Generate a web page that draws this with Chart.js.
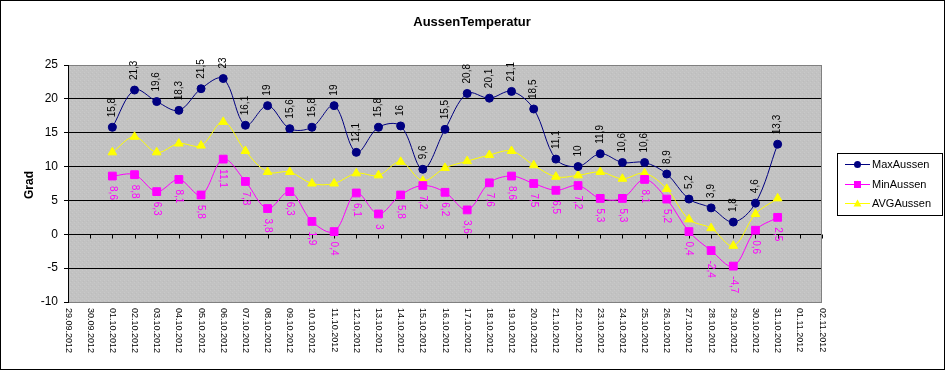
<!DOCTYPE html>
<html>
<head>
<meta charset="utf-8">
<script src="https://cdn.jsdelivr.net/npm/chart.js@4.4.0/dist/chart.umd.min.js"></script>
<style>
  html, body { margin: 0; padding: 0; background: #fff; }
  canvas { display: block; }
</style>
</head>
<body>
<canvas id="chart" width="946" height="371"></canvas>
<script>
/* =========================================================
   DATA
========================================================= */
const dates = [
  "29.09.2012", "30.09.2012",
  "01.10.2012", "02.10.2012", "03.10.2012", "04.10.2012", "05.10.2012",
  "06.10.2012", "07.10.2012", "08.10.2012", "09.10.2012", "10.10.2012",
  "11.10.2012", "12.10.2012", "13.10.2012", "14.10.2012", "15.10.2012",
  "16.10.2012", "17.10.2012", "18.10.2012", "19.10.2012", "20.10.2012",
  "21.10.2012", "22.10.2012", "23.10.2012", "24.10.2012", "25.10.2012",
  "26.10.2012", "27.10.2012", "28.10.2012", "29.10.2012", "30.10.2012",
  "31.10.2012", "01.11.2012", "02.11.2012"
];

// values for 01.10 .. 31.10
const maxAussen = [15.8, 21.3, 19.6, 18.3, 21.5, 23, 16.1, 19, 15.6, 15.8,
  19, 12.1, 15.8, 16, 9.6, 15.5, 20.8, 20.1, 21.1, 18.5,
  11.1, 10, 11.9, 10.6, 10.6, 8.9, 5.2, 3.9, 1.8, 4.6, 13.3];

const minAussen = [8.6, 8.8, 6.3, 8.1, 5.8, 11.1, 7.8, 3.8, 6.3, 1.9,
  0.4, 6.1, 3, 5.8, 7.2, 6.2, 3.6, 7.6, 8.6, 7.5,
  6.5, 7.2, 5.3, 5.3, 8.1, 5.2, 0.4, -2.4, -4.7, 0.6, 2.5];

const avgAussen = [12.1, 14.4, 12.1, 13.4, 13.1, 16.6, 12.3, 9.2, 9.2, 7.5,
  7.5, 9.0, 8.7, 10.7, 7.9, 9.8, 10.8, 11.7, 12.3, 10.2,
  8.5, 8.7, 9.2, 8.2, 9.0, 6.7, 2.2, 0.9, -1.7, 3.0, 5.3];

const yTicks = { min: -10, max: 25, step: 5 };

/* =========================================================
   HELPERS
========================================================= */
const FONT = '"Liberation Sans", Arial, sans-serif';

// first two and last two dates carry no values
function pad(values) {
  return [null, null, ...values, null, null];
}

function formatNum(v) {
  return String(v).replace(".", ",");
}

function plotPattern(ctx) {
  const c = document.createElement("canvas");
  c.width = 4;
  c.height = 4;
  const p = c.getContext("2d");
  p.fillStyle = "#c2c2c2";
  p.fillRect(0, 0, 4, 4);
  p.fillStyle = "#c9c9c9";
  p.fillRect(0, 0, 1, 1);
  p.fillRect(2, 2, 1, 1);
  p.fillStyle = "#bcbcbc";
  p.fillRect(3, 1, 1, 1);
  return ctx.createPattern(c, "repeat");
}

/* =========================================================
   DECORATION PLUGIN
========================================================= */
const decor = {
  id: "decor",

  beforeDraw(chart) {
    const { ctx, chartArea: a } = chart;
    ctx.save();
    ctx.fillStyle = "#fff";
    ctx.fillRect(0, 0, chart.width, chart.height);
    ctx.fillStyle = plotPattern(ctx);
    ctx.fillRect(a.left, a.top, a.right - a.left, a.bottom - a.top);
    ctx.restore();
  },

  beforeDatasetsDraw(chart) {
    const { ctx, chartArea: a, scales } = chart;
    ctx.save();
    // plot border
    ctx.strokeStyle = "#808080";
    ctx.lineWidth = 1;
    ctx.strokeRect(a.left + 0.5, a.top + 0.5, a.right - a.left - 1, a.bottom - a.top);
    // value axis
    ctx.strokeStyle = "#000";
    ctx.beginPath();
    ctx.moveTo(a.left + 0.5, a.top);
    ctx.lineTo(a.left + 0.5, a.bottom + 1);
    ctx.stroke();
    // category ticks on the zero line
    const y0 = Math.round(scales.y.getPixelForValue(0)) + 0.5;
    ctx.beginPath();
    dates.forEach((d, i) => {
      const x = Math.round(scales.x.getPixelForValue(i)) + 0.5;
      ctx.moveTo(x, y0);
      ctx.lineTo(x, y0 + 4);
    });
    ctx.stroke();
    ctx.restore();
  },

  afterDatasetsDraw(chart) {
    const { ctx } = chart;
    ctx.save();
    ctx.font = "10px " + FONT;
    ctx.textBaseline = "middle";
    ctx.textAlign = "left";
    chart.data.datasets.forEach((ds, i) => {
      if (!ds.labelSide) return;
      const meta = chart.getDatasetMeta(i);
      meta.data.forEach((pt, j) => {
        const v = ds.data[j];
        if (v == null) return;
        ctx.save();
        ctx.translate(pt.x, pt.y);
        ctx.rotate(ds.labelSide === "above" ? -Math.PI / 2 : Math.PI / 2);
        ctx.fillStyle = ds.labelColor;
        ctx.fillText(formatNum(v), 10, 0);
        ctx.restore();
      });
    });
    ctx.restore();
  },

  afterDraw(chart) {
    const { ctx, scales } = chart;
    ctx.save();

    // title
    ctx.fillStyle = "#000";
    ctx.font = "bold 13px " + FONT;
    ctx.textAlign = "center";
    ctx.textBaseline = "middle";
    ctx.fillText("AussenTemperatur", 472, 22);

    // axis title
    ctx.save();
    ctx.translate(30, 185);
    ctx.rotate(-Math.PI / 2);
    ctx.font = "bold 12px " + FONT;
    ctx.fillText("Grad", 0, 0);
    ctx.restore();

    // date labels
    ctx.font = "9px " + FONT;
    ctx.textAlign = "left";
    dates.forEach((d, i) => {
      const x = scales.x.getPixelForValue(i);
      ctx.save();
      ctx.translate(x, 308);
      ctx.rotate(Math.PI / 2);
      ctx.fillText(d, 0, 0);
      ctx.restore();
    });

    // legend
    ctx.fillStyle = "#fff";
    ctx.fillRect(837, 153, 105, 62);
    ctx.strokeStyle = "#000";
    ctx.lineWidth = 1;
    ctx.strokeRect(837.5, 153.5, 105, 62);
    ctx.font = "11px " + FONT;
    ctx.textBaseline = "middle";
    const rows = [164, 184, 203];
    chart.data.datasets.forEach((ds, i) => {
      const y = rows[i];
      ctx.strokeStyle = ds.borderColor;
      ctx.fillStyle = ds.borderColor;
      ctx.beginPath();
      ctx.moveTo(845, y + 0.5);
      ctx.lineTo(870, y + 0.5);
      ctx.stroke();
      const cx = 857.5;
      ctx.beginPath();
      if (ds.pointStyle === "circle") {
        ctx.arc(cx, y + 0.5, 3.5, 0, Math.PI * 2);
      } else if (ds.pointStyle === "rect") {
        ctx.rect(cx - 3.5, y - 3, 7, 7);
      } else {
        ctx.moveTo(cx, y - 3.5);
        ctx.lineTo(cx + 4, y + 3.5);
        ctx.lineTo(cx - 4, y + 3.5);
        ctx.closePath();
      }
      ctx.fill();
      ctx.fillStyle = "#000";
      ctx.fillText(ds.label, 872, y + 1);
    });

    // outer border
    ctx.strokeStyle = "#000";
    ctx.strokeRect(0.5, 0.5, 944, 369);
    ctx.restore();
  }
};

/* =========================================================
   CHART
========================================================= */
new Chart(document.getElementById("chart"), {
  type: "line",
  data: {
    labels: dates,
    datasets: [
      {
        label: "MaxAussen",
        data: pad(maxAussen),
        borderColor: "#000080",
        backgroundColor: "#000080",
        borderWidth: 1,
        pointStyle: "circle",
        pointRadius: 4,
        tension: 0.35,
        labelSide: "above",
        labelColor: "#000"
      },
      {
        label: "MinAussen",
        data: pad(minAussen),
        borderColor: "#ff00ff",
        backgroundColor: "#ff00ff",
        borderWidth: 1,
        pointStyle: "rect",
        pointRadius: 5.5,
        tension: 0.35,
        labelSide: "below",
        labelColor: "#ff00ff"
      },
      {
        label: "AVGAussen",
        data: pad(avgAussen),
        borderColor: "#ffff00",
        backgroundColor: "#ffff00",
        borderWidth: 1,
        pointStyle: "triangle",
        pointRadius: 5,
        tension: 0.35
      }
    ]
  },
  options: {
    responsive: false,
    animation: false,
    events: [],
    layout: { padding: { top: 65, right: 124, left: 0, bottom: 0 } },
    plugins: {
      legend: { display: false },
      title: { display: false },
      tooltip: { enabled: false }
    },
    scales: {
      x: {
        type: "category",
        offset: false,
        grid: { display: false },
        border: { display: false },
        ticks: { display: false },
        afterFit(s) { s.height = 69; }
      },
      y: {
        min: yTicks.min,
        max: yTicks.max,
        ticks: {
          stepSize: yTicks.step,
          color: "#000",
          padding: 6,
          font: { size: 12, family: FONT }
        },
        grid: {
          color: c => (c.tick && (c.tick.value === yTicks.max || c.tick.value === yTicks.min))
            ? "rgba(0,0,0,0)" : "#000",
          tickColor: "#000",
          tickLength: 4,
          lineWidth: 1
        },
        border: { display: false },
        afterFit(s) { s.width = 68; }
      }
    }
  },
  plugins: [decor]
});
</script>
</body>
</html>
